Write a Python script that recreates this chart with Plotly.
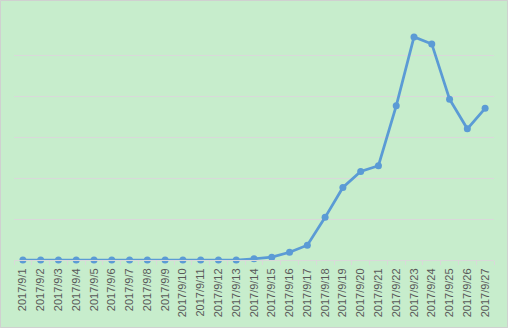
import plotly.graph_objects as go

dates = [f"2017/9/{d}" for d in range(1, 28)]
values = [0.0, 0.0, 0.0, 0.0, 0.0, 0.0, 0.0, 0.0, 0.0, 0.0, 0.0, 0.0, 0.0,
          0.3, 0.7, 1.9, 3.6, 10.4, 17.7, 21.6, 23.0, 37.6, 54.4, 52.7, 39.2, 32.0, 37.0]

bg = "#C7EDCC"
fig = go.Figure()
fig.add_trace(go.Scatter(
    x=dates, y=values, mode="lines+markers",
    line=dict(color="#5B9BD5", width=2.75),
    marker=dict(color="#5B9BD5", size=7),
    cliponaxis=False, showlegend=False,
))

W, H = 508, 328
ml, mr, mt, mb = 14, 14, 14, 68
pw, ph = W - ml - mr, H - mt - mb
fig.update_layout(
    width=W, height=H,
    margin=dict(l=ml, r=mr, t=mt, b=mb, pad=0),
    paper_bgcolor=bg, plot_bgcolor=bg,
    font=dict(family="Liberation Sans, Arial, sans-serif", color="#595959"),
    xaxis=dict(
        type="category", range=[-0.5, 26.5],
        tickangle=-90, tickfont=dict(size=11, color="#595959"),
        showline=True, linecolor="#D9D9D9", linewidth=1,
        ticks="outside", tickson="boundaries", ticklen=4, tickcolor="#D9D9D9",
        ticklabelstandoff=3,
        showgrid=False,
    ),
    yaxis=dict(
        range=[0, 60], dtick=10, showticklabels=False,
        showgrid=True, gridcolor="#D9D9D9", gridwidth=1, zeroline=False,
    ),
    shapes=[dict(
        type="rect", xref="paper", yref="paper",
        x0=-(ml - 0.5) / pw, x1=1 + (mr - 0.5) / pw,
        y0=-(mb - 0.5) / ph, y1=1 + (mt - 0.5) / ph,
        line=dict(color="#D0D0D0", width=1), layer="below",
    )],
)
fig.write_html("out.html")
